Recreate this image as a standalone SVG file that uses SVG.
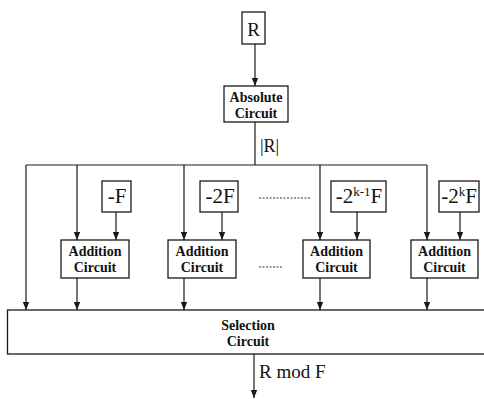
<svg xmlns="http://www.w3.org/2000/svg" width="484" height="399" viewBox="0 0 484 399">
<style>
  .box { fill: #ffffff; stroke: #1a1a1a; stroke-width: 1.3; }
  .ln { fill: none; stroke: #1a1a1a; stroke-width: 1.2; }
  .arr { marker-end: url(#ah); }
  .dot { fill: none; stroke: #333; stroke-width: 1; stroke-dasharray: 2 1.5; }
  .lbl { font-family: "Liberation Serif", "Times New Roman", serif; fill: #111; }
  .blk { font-family: "Liberation Serif", "Times New Roman", serif; font-weight: bold; font-size: 14px; fill: #111; text-anchor: middle; }
  .val { font-family: "Liberation Serif", "Times New Roman", serif; font-size: 21px; fill: #111; text-anchor: middle; }
  .sup { font-size: 13px; }
</style>
<defs>
  <marker id="ah" markerUnits="userSpaceOnUse" markerWidth="8" markerHeight="8" viewBox="0 0 8 8" refX="8" refY="4" orient="auto">
    <path d="M0,0.8 L8,4 L0,7.2 Z" fill="#1a1a1a"/>
  </marker>
</defs>
<rect width="484" height="399" fill="#ffffff"/>

<g id="connectors">
  <line class="ln arr" x1="255" y1="44" x2="255" y2="86"/>
  <line class="ln" x1="255" y1="122" x2="255" y2="165"/>
  <line class="ln" x1="26" y1="165" x2="427" y2="165"/>
  <line class="ln arr" x1="26" y1="165" x2="26" y2="310"/>
  <line class="ln arr" x1="77" y1="165" x2="77" y2="240"/>
  <line class="ln arr" x1="184" y1="165" x2="184" y2="240"/>
  <line class="ln arr" x1="320" y1="165" x2="320" y2="240"/>
  <line class="ln arr" x1="427" y1="165" x2="427" y2="240"/>
  <line class="ln arr" x1="116" y1="212" x2="116" y2="240"/>
  <line class="ln arr" x1="222" y1="212" x2="222" y2="240"/>
  <line class="ln arr" x1="357" y1="212" x2="357" y2="240"/>
  <line class="ln arr" x1="460" y1="212" x2="460" y2="240"/>
  <line class="ln arr" x1="77" y1="278" x2="77" y2="310"/>
  <line class="ln arr" x1="184" y1="278" x2="184" y2="310"/>
  <line class="ln arr" x1="320" y1="278" x2="320" y2="310"/>
  <line class="ln arr" x1="427" y1="278" x2="427" y2="310"/>
  <line class="ln arr" x1="254" y1="354" x2="254" y2="398"/>
  <line class="dot" x1="259" y1="198" x2="311" y2="198"/>
  <line class="dot" x1="259" y1="267" x2="282" y2="267"/>
  <text class="lbl" x="260" y="152" font-size="18">|R|</text>
  <text class="lbl" x="259" y="378" font-size="19">R mod F</text>
</g>

<g id="input-r">
  <rect class="box" x="242" y="12" width="23" height="32"/>
  <text class="lbl" x="253.5" y="36" font-size="19" text-anchor="middle">R</text>
</g>

<g id="absolute-circuit">
  <rect class="box" x="224" y="86" width="64" height="36"/>
  <text class="blk" x="256" y="102">Absolute</text>
  <text class="blk" x="256" y="117.5">Circuit</text>
</g>

<g id="const-f">
  <rect class="box" x="102" y="181" width="29" height="31"/>
  <text class="val" x="117" y="203">-F</text>
</g>
<g id="const-2f">
  <rect class="box" x="200" y="181" width="38" height="31"/>
  <text class="val" x="220" y="203">-2F</text>
</g>
<g id="const-2k1f">
  <rect class="box" x="331" y="181" width="55" height="31"/>
  <text class="val" x="359" y="203">-2<tspan class="sup" dy="-7">k-1</tspan><tspan dy="7">F</tspan></text>
</g>
<g id="const-2kf">
  <rect class="box" x="439" y="181" width="40" height="31"/>
  <text class="val" x="459" y="203">-2<tspan class="sup" dy="-7">k</tspan><tspan dy="7">F</tspan></text>
</g>

<g id="addition-1">
  <rect class="box" x="61" y="240" width="68" height="38"/>
  <text class="blk" x="95" y="256">Addition</text>
  <text class="blk" x="95" y="271.5">Circuit</text>
</g>
<g id="addition-2">
  <rect class="box" x="168" y="240" width="68" height="38"/>
  <text class="blk" x="202" y="256">Addition</text>
  <text class="blk" x="202" y="271.5">Circuit</text>
</g>
<g id="addition-3">
  <rect class="box" x="303" y="240" width="67" height="38"/>
  <text class="blk" x="336.5" y="256">Addition</text>
  <text class="blk" x="336.5" y="271.5">Circuit</text>
</g>
<g id="addition-4">
  <rect class="box" x="411" y="240" width="67" height="38"/>
  <text class="blk" x="444.5" y="256">Addition</text>
  <text class="blk" x="444.5" y="271.5">Circuit</text>
</g>

<g id="selection-circuit">
  <rect class="box" x="7.5" y="310" width="480" height="44"/>
  <text class="blk" x="248" y="330">Selection</text>
  <text class="blk" x="248" y="346">Circuit</text>
</g>
</svg>
